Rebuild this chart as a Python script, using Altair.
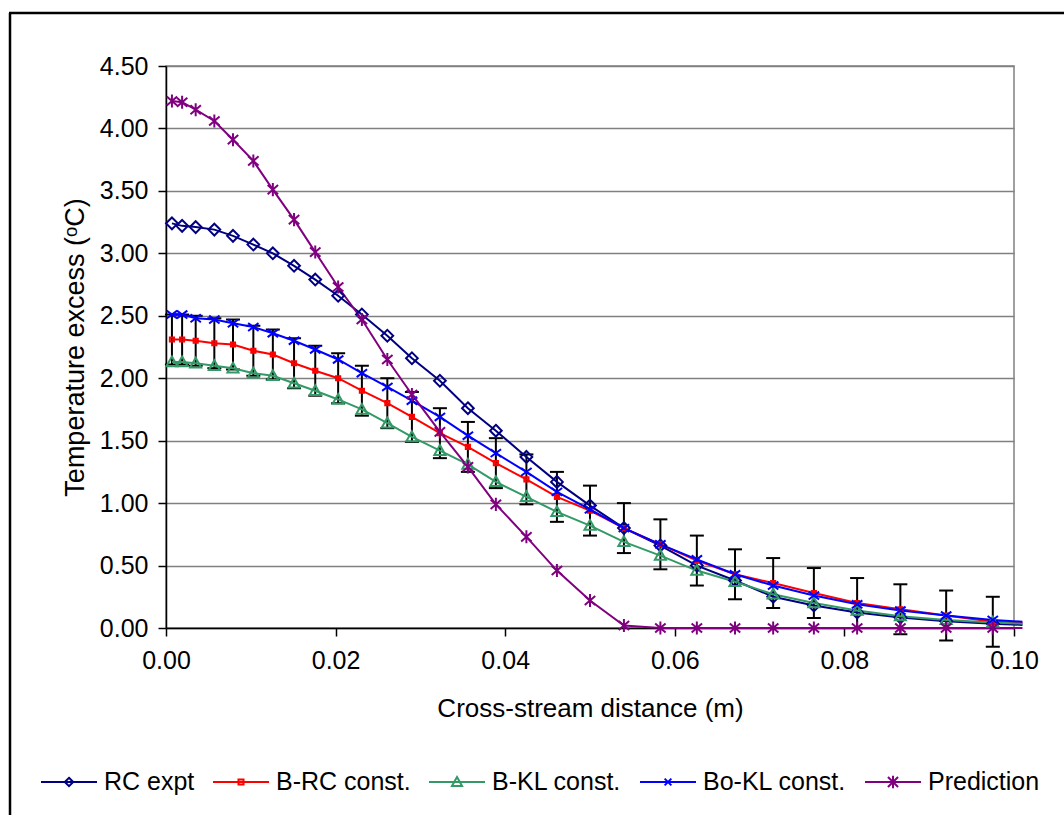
import altair as alt
import pandas as pd

FONT = "Liberation Sans"

series_names = ["RC expt", "B-RC const.", "B-KL const.", "Bo-KL const.", "Prediction"]
series_colors = ["#000080", "#FF0000", "#339966", "#0000FF", "#800080"]

x_m = [0.0007, 0.0019, 0.0035, 0.0057, 0.0079, 0.0103, 0.0126, 0.0151, 0.0176, 0.0203,
       0.0231, 0.0261, 0.0290, 0.0323, 0.0356, 0.0389, 0.0425, 0.0461, 0.0500, 0.0540,
       0.0583, 0.0626, 0.0671, 0.0716, 0.0764, 0.0815, 0.0866, 0.0920, 0.0975, 0.1010]

rc_expt = [3.24, 3.22, 3.21, 3.19, 3.14, 3.07, 3.00, 2.90, 2.79, 2.66,
           2.51, 2.34, 2.16, 1.98, 1.76, 1.58, 1.37, 1.17, 0.98, 0.80,
           0.66, 0.50, 0.38, 0.25, 0.18, 0.125, 0.085, 0.055, 0.035, 0.025]
b_rc = [2.31, 2.31, 2.30, 2.28, 2.27, 2.22, 2.19, 2.12, 2.06, 2.00,
        1.90, 1.80, 1.69, 1.56, 1.45, 1.32, 1.19, 1.05, 0.94, 0.80,
        0.67, 0.54, 0.43, 0.36, 0.28, 0.20, 0.15, 0.10, 0.05, 0.04]
b_kl = [2.13, 2.13, 2.12, 2.10, 2.08, 2.04, 2.02, 1.96, 1.90, 1.83,
        1.75, 1.64, 1.53, 1.42, 1.31, 1.17, 1.05, 0.93, 0.82, 0.69,
        0.58, 0.46, 0.37, 0.27, 0.20, 0.14, 0.095, 0.065, 0.045, 0.035]
bo_kl = [2.51, 2.51, 2.48, 2.47, 2.44, 2.41, 2.36, 2.30, 2.23, 2.15,
         2.04, 1.93, 1.82, 1.69, 1.54, 1.40, 1.25, 1.09, 0.95, 0.80,
         0.67, 0.55, 0.43, 0.34, 0.26, 0.19, 0.14, 0.10, 0.065, 0.05]
prediction = [4.22, 4.21, 4.15, 4.06, 3.91, 3.74, 3.51, 3.27, 3.01, 2.73,
              2.47, 2.15, 1.87, 1.57, 1.29, 0.99, 0.73, 0.46, 0.22, 0.02,
              0.0, 0.0, 0.0, 0.0, 0.0, 0.0, 0.0, 0.0, 0.0, 0.0]

error_half = 0.2
marker_count = 29

x_ticks = [0.0, 0.02, 0.04, 0.06, 0.08, 0.10]
y_ticks = [0.0, 0.5, 1.0, 1.5, 2.0, 2.5, 3.0, 3.5, 4.0, 4.5]

marker_paths = [
    "M0,-0.9L0.9,0L0,0.9L-0.9,0Z",
    "M-0.32,-0.32L0.32,-0.32L0.32,0.32L-0.32,0.32Z",
    "M0,-0.85L0.85,0.65L-0.85,0.65Z",
    "M-0.8,-0.6L0.8,0.6M-0.8,0.6L0.8,-0.6",
    "M-0.8,-0.7L0.8,0.7M-0.8,0.7L0.8,-0.7M0,-1L0,1",
]
legend_paths = [
    "M-1,0L1,0M0,-0.15L0.15,0L0,0.15L-0.15,0Z",
    "M-1,0L1,0M-0.09,-0.09L0.09,-0.09L0.09,0.09L-0.09,0.09Z",
    "M-1,0L1,0M0,-0.18L0.18,0.14L-0.18,0.14Z",
    "M-1,0L1,0M-0.12,-0.12L0.12,0.12M-0.12,0.12L0.12,-0.12",
    "M-1,0L1,0M-0.18,-0.18L0.18,0.18M-0.18,0.18L0.18,-0.18M0,-0.22L0,0.22",
]

rows = []
for name, vals in zip(series_names, [rc_expt, b_rc, b_kl, bo_kl, prediction]):
    for i, (xv, yv) in enumerate(zip(x_m, vals)):
        rows.append({"series": name, "order": i, "x": xv, "y": yv, "marker": i < marker_count})
df = pd.DataFrame(rows)

err_df = pd.DataFrame({
    "x": x_m[:marker_count],
    "lo": [v - error_half for v in b_rc[:marker_count]],
    "hi": [v + error_half for v in b_rc[:marker_count]],
})

x_scale = alt.Scale(domain=[0, 0.1], nice=False, zero=False)
y_scale = alt.Scale(domain=[0, 4.5], nice=False, zero=False)
color_scale = alt.Scale(domain=series_names, range=series_colors)

x_axis = alt.Axis(values=x_ticks, format=".2f", title="Cross-stream distance (m)", grid=False,
                  tickSize=8, labelPadding=12, titlePadding=22, labelFlush=False, titleFontSize=26)
y_axis = alt.Axis(values=y_ticks, format=".2f", title="Temperature excess (\u1d52C)", grid=True,
                  gridColor="#808080", gridWidth=1.3, tickSize=8, labelPadding=10, titlePadding=10,
                  labelFlush=False, titleFontSize=27)


def X(field="x"):
    return alt.X(f"{field}:Q", scale=x_scale, axis=x_axis)


def Y(field="y"):
    return alt.Y(f"{field}:Q", scale=y_scale, axis=y_axis)


err_rule = alt.Chart(err_df).mark_rule(color="black", strokeWidth=2).encode(
    x=X(), y=Y("lo"), y2="hi:Q",
)
err_top = alt.Chart(err_df).mark_tick(color="black", orient="horizontal", size=14, thickness=2, opacity=1).encode(
    x=X(), y=Y("hi"),
)
err_bot = alt.Chart(err_df).mark_tick(color="black", orient="horizontal", size=14, thickness=2, opacity=1).encode(
    x=X(), y=Y("lo"),
)

line_layers = []
point_layers = []
for name, col, path in zip(series_names, series_colors, marker_paths):
    line_layers.append(
        alt.Chart(df).transform_filter(alt.datum.series == name)
        .mark_line(strokeWidth=2, color=col)
        .encode(x=X(), y=Y(), order="order:Q")
    )
    point_layers.append(
        alt.Chart(df).transform_filter(alt.datum.series == name).transform_filter("datum.marker")
        .mark_point(shape=path, size=170, filled=False, strokeWidth=2, color=col, opacity=1)
        .encode(x=X(), y=Y())
    )

legend_props = dict(orient="none", legendX=-126, legendY=687, direction="horizontal", columns=5,
                    title=None, labelFont=FONT, labelFontSize=25, labelColor="black",
                    symbolSize=3136, symbolStrokeWidth=2, labelOffset=6, columnPadding=14,
                    labelLimit=400)
legend_layer = alt.Chart(df).transform_filter("false").mark_point(filled=False, strokeWidth=2, size=3136, opacity=1).encode(
    x=X(), y=Y(),
    color=alt.Color("series:N", scale=color_scale, legend=alt.Legend(**legend_props)),
    shape=alt.Shape("series:N", scale=alt.Scale(domain=series_names, range=legend_paths),
                    legend=alt.Legend(**legend_props)),
)

frame_df = pd.DataFrame({"k": [0]})
frame_left = alt.Chart(frame_df).mark_rule(color="black", strokeWidth=2.5).encode(
    x=alt.value(-156), y=alt.value(-53), y2=alt.value(800))
frame_top = alt.Chart(frame_df).mark_rule(color="black", strokeWidth=2.5).encode(
    x=alt.value(-157), x2=alt.value(950), y=alt.value(-53))

chart = alt.layer(
    err_rule, err_top, err_bot, *line_layers, *point_layers, legend_layer, frame_left, frame_top
).properties(
    width=848, height=562,
    autosize=alt.AutoSizeParams(type="none"),
    padding={"left": 166, "top": 66, "right": 50, "bottom": 187},
    background="white",
).configure_view(
    stroke="#808080", strokeWidth=1.5
).configure_axis(
    labelFont=FONT, titleFont=FONT, labelFontSize=25,
    titleFontWeight="normal", labelColor="black", titleColor="black",
    domainColor="black", domainWidth=1.5, tickColor="black", tickWidth=1.5,
)

chart.save("out.html", embed_options={"renderer": "svg", "actions": False})
